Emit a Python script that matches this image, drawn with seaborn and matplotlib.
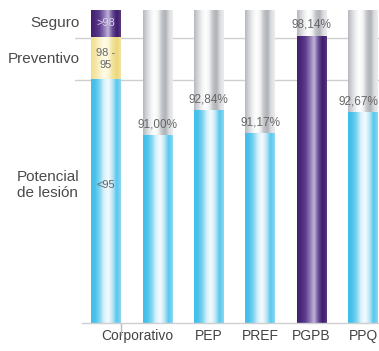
import numpy as np
import pandas as pd
import matplotlib
matplotlib.use("Agg")
import matplotlib.pyplot as plt
import matplotlib.transforms as mtransforms
from matplotlib.colors import LinearSegmentedColormap
import seaborn as sns

# ---------------- data ----------------
categories = ["Corporativo", "PEP", "PREF", "PGPB", "PPQ"]
values = [91.00, 92.84, 91.17, 98.14, 92.67]
value_labels = ["91,00%", "92,84%", "91,17%", "98,14%", "92,67%"]
band_names = ["Potencial\nde lesión", "Preventivo", "Seguro"]
band_tops = [95, 98, 100]
band_texts = ["<95", "98 -\n95", ">98"]
scale_max = 100

# ---------------- style ----------------
sns.set_theme(style="white")
plt.rcParams['font.family'] = ['Liberation Sans', 'DejaVu Sans']

gray_stops = ['#b4b7bb', '#d3d5d8', '#eeeff0', '#ffffff', '#f4f4f5', '#c3c5c9', '#aeb1b5', '#dcdde0', '#ededee']
band_stops = [
    ['#3fbde8', '#4cc3eb', '#7fd4f1', '#d8f1fa', '#f6fcfe', '#bfe8f7', '#56c7ed', '#8fd8f2'],   # cyan
    ['#f1df8e', '#f5e6a5', '#faf1c9', '#fffbe9', '#fdf7dc', '#f3e39c', '#ecd77d', '#f3e4a4'],   # yellow
    ['#3f1f6e', '#4b2a7c', '#5d3d8e', '#8c74b2', '#c2b5d9', '#6a4d98', '#3d1d6b', '#58397f'],   # purple
]
line_col = '#cfcfcf'

fig = plt.figure(figsize=(3.79, 3.51), dpi=100)
ax = fig.add_axes([82 / 379, 28 / 351, 297 / 379, 313 / 351])

scale_cat = " "
order = [scale_cat] + categories
bar_w = 0.58


def fill_gradient(patch, stops, z):
    cmap = LinearSegmentedColormap.from_list("g", stops)
    x0, y0 = patch.get_x(), patch.get_y()
    w, h = patch.get_width(), patch.get_height()
    grad = np.linspace(0, 1, 256).reshape(1, -1)
    im = ax.imshow(grad, cmap=cmap, aspect='auto', origin='lower',
                   extent=(x0, x0 + w, y0, y0 + h), zorder=z,
                   interpolation='bicubic')
    im.set_clip_path(patch)
    im.set_clip_box(ax.bbox)
    patch.set_facecolor('none')
    patch.set_edgecolor('none')


def draw_bars(xs, ys, stops_list, z):
    n0 = len(ax.patches)
    df = pd.DataFrame({"cat": xs, "val": ys})
    sns.barplot(data=df, x="cat", y="val", order=order, width=bar_w,
                color="#cccccc", saturation=1, ax=ax, errorbar=None)
    new = ax.patches[n0:]
    for p, st in zip(new, stops_list):
        fill_gradient(p, st, z)
        p.set_zorder(z)


# gray background cylinders
draw_bars(categories, [scale_max] * len(categories), [gray_stops] * len(categories), 2)

# scale column: stacked bands (top first)
for i in reversed(range(len(band_tops))):
    draw_bars([scale_cat], [band_tops[i]], [band_stops[i]], 3 + (len(band_tops) - i))

# value bars coloured by band
val_bands = [int(np.searchsorted(band_tops, v)) for v in values]
draw_bars(categories, values, [band_stops[b] for b in val_bands], 8)

# gridlines at band limits
for t in band_tops[:-1]:
    ax.axhline(t, xmin=-0.025, xmax=1, color=line_col, lw=1, zorder=1, clip_on=False)

ax.set_xlim(-0.467, 5.311)
ax.set_ylim(77.64, scale_max)

# value labels
n = len(values)
for i, (v, lab) in enumerate(zip(values, value_labels)):
    if i == n - 1:
        ax.annotate(lab, (i + 1 + bar_w / 2, v), xytext=(0, 8), textcoords='offset points',
                    ha='right', va='center', fontsize=8.5, color='#666666', zorder=12)
    else:
        ax.annotate(lab, (i + 1, v), xytext=(0, 8), textcoords='offset points',
                    ha='center', va='center', fontsize=8.5, color='#666666', zorder=12)

# band labels to the left and inside scale column
trans_left = mtransforms.blended_transform_factory(ax.transAxes, ax.transData)
label_y = [87.5, 96.5, 99.1]
for name, txt, yv, b in zip(band_names, band_texts, label_y, range(3)):
    if b == 0:
        ax.text(-0.219, yv, name, transform=trans_left, ha='left', va='center',
                fontsize=11, color='#4a4a4a', linespacing=1.1, clip_on=False)
    else:
        ax.text(-0.008, yv, name, transform=trans_left, ha='right', va='center',
                fontsize=11, color='#4a4a4a', clip_on=False)
    ax.text(0, yv, txt, ha='center', va='center', fontsize=8,
            color='#d8d0e6' if b == 2 else '#666666', linespacing=1.3, zorder=12)

# axes decoration
for s in ['left', 'right', 'top']:
    ax.spines[s].set_visible(False)
ax.spines['bottom'].set_color(line_col)
ax.spines['bottom'].set_linewidth(1)
ax.spines['bottom'].set_zorder(20)
ax.set_yticks([])
ax.set_xlabel("")
ax.set_ylabel("")
ax.set_xticks(range(1, len(order)))
ax.set_xticklabels(categories, fontsize=10, color='#444444')
ax.tick_params(axis='x', length=0, pad=4)
# shift the long first label left as in reference
lab0 = ax.get_xticklabels()[0]
lab0.set_transform(lab0.get_transform() +
                   mtransforms.ScaledTranslation(-0.2, 0, fig.dpi_scale_trans))

# small separator tick under scale column
trans_tick = mtransforms.blended_transform_factory(ax.transData, ax.transAxes)
ax.plot([bar_w / 2, bar_w / 2], [0, -0.038], transform=trans_tick,
        color='#bbbbbb', lw=1, clip_on=False)

fig.savefig("out.png", dpi=100)
